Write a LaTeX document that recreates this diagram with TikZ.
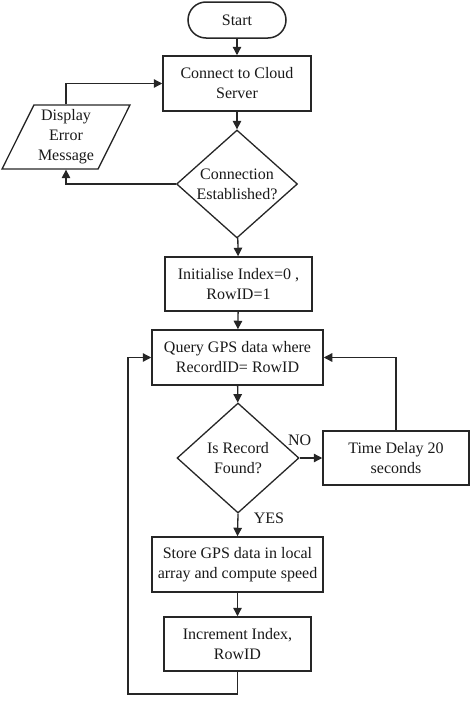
\documentclass[tikz,border=0pt]{standalone}
\usepackage{fontspec}
\setmainfont{Liberation Serif}
\usetikzlibrary{shapes.geometric,arrows.meta}
\begin{document}
\begin{tikzpicture}[x=1pt,y=-1pt,
  every node/.style={font=\fontsize{16}{20}\selectfont, text=black!90},
  box/.style={draw=black!85, line width=1.5pt, rectangle, align=center, inner sep=0pt},
  term/.style={box, rounded corners=18pt},
  dec/.style={draw=black!85, line width=1.3pt, diamond, align=center, inner sep=0pt, aspect=1.1},
  io/.style={draw=black!85, line width=1.3pt, trapezium, trapezium left angle=63, trapezium right angle=117, trapezium stretches=true, align=center, inner sep=0pt},
  arr/.style={draw=black!85, line width=1.3pt, -{Triangle[length=8.5pt,width=8.5pt]}},
  lbl/.style={font=\fontsize{16}{20}\selectfont}
]
\useasboundingbox (0,0) rectangle (474,715);

\node[term, minimum width=98pt, minimum height=36pt] (start) at (237,20) {Start};
\node[box, minimum width=148pt, minimum height=55pt] (connect) at (237,83.5) {Connect to Cloud\\Server};
\node[dec, minimum width=121pt, minimum height=108pt] (conn) at (237,184) {Connection\\Established?};
\node[io, minimum width=128pt, minimum height=64pt] (err) at (66,137) {Display\\Error\\Message};
\node[box, minimum width=147pt, minimum height=54pt] (init) at (238.5,284) {Initialise Index=0 ,\\RowID=1};
\node[box, minimum width=171pt, minimum height=55pt] (query) at (237.5,357.5) {Query GPS data where\\RecordID= RowID};
\node[dec, minimum width=122pt, minimum height=110pt] (rec) at (238,458) {Is Record\\Found?};
\node[box, minimum width=146pt, minimum height=54pt] (delay) at (396,458) {Time Delay 20\\seconds};
\node[box, minimum width=171pt, minimum height=55pt] (store) at (237.5,564.5) {Store GPS data in local\\array and compute speed};
\node[box, minimum width=147pt, minimum height=54pt] (inc) at (237.5,644) {Increment Index,\\RowID};
\coordinate (lp) at (128,694);

\draw[arr] (start) -- (connect);
\draw[arr] (connect) -- (conn);
\draw[arr] (conn.west) -| (err.south);
\draw[arr] (err.north) |- (connect.west);
\draw[arr] (conn) -- (init);
\draw[arr] (init) -- (query);
\draw[arr] (query) -- (rec);
\draw[arr] (rec.east) -- node[lbl, above, pos=0.0, xshift=0pt, yshift=8pt] (no) {NO} (delay.west);
\draw[arr] (delay.north) |- (query.east);
\draw[arr] (rec.south) -- node[lbl, right, pos=0.2, xshift=12pt] (yes) {YES} (store.north);
\draw[arr] (store) -- (inc);
\draw[arr] (inc.south) |- (lp) |- (query.west);
\end{tikzpicture}
\end{document}
